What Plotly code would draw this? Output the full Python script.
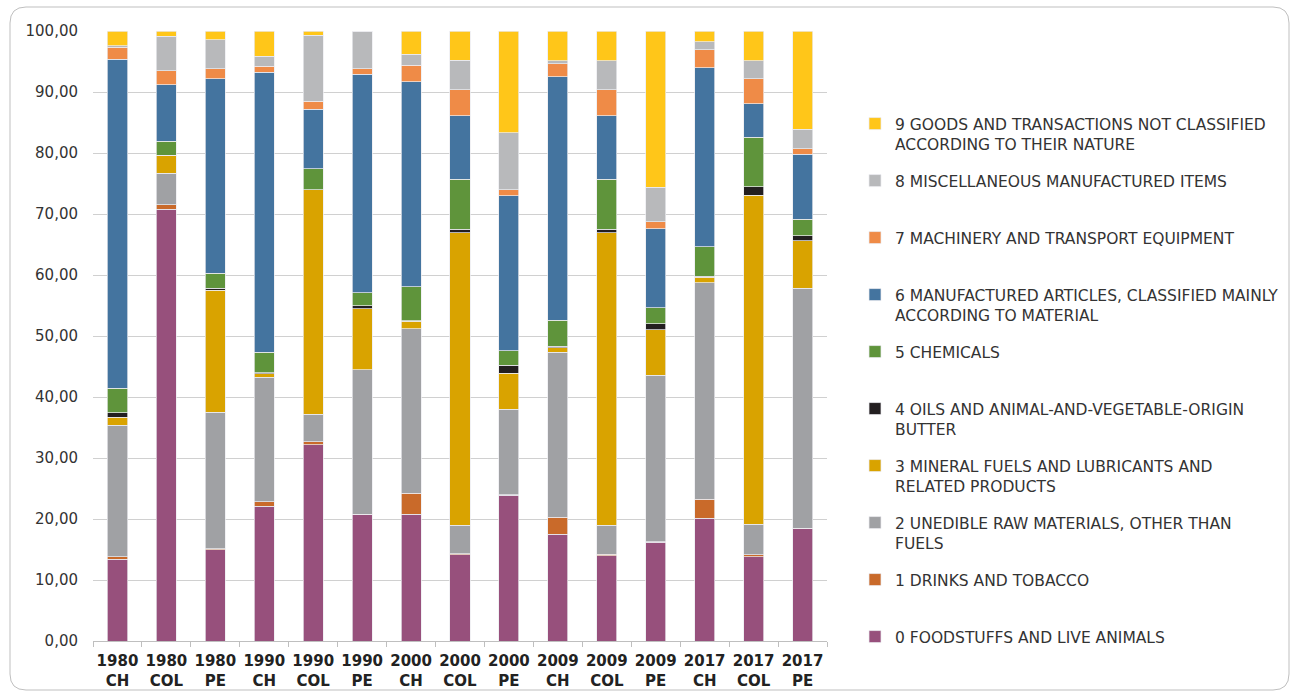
import plotly.graph_objects as go

years = ["1980", "1980", "1980", "1990", "1990", "1990", "2000", "2000", "2000",
         "2009", "2009", "2009", "2017", "2017", "2017"]
countries = ["CH", "COL", "PE"] * 5
categories = [f"{y} {c}" for y, c in zip(years, countries)]
tick_labels = [f"{y}<br>{c}" for y, c in zip(years, countries)]

food = [13.4, 70.8, 15.0, 22.1, 32.2, 20.7, 20.8, 14.1, 23.9, 17.5, 14.0, 16.2, 20.1, 13.8, 18.4]
drinks = [0.4, 0.7, 0.1, 0.7, 0.5, 0.1, 3.4, 0.2, 0.1, 2.8, 0.2, 0.1, 3.1, 0.3, 0.1]
raw = [21.6, 5.2, 22.4, 20.4, 4.5, 23.7, 27.0, 4.7, 14.0, 27.0, 4.8, 27.3, 35.5, 5.0, 39.3]
fuel = [1.3, 2.9, 20.0, 0.6, 36.8, 10.0, 1.2, 47.9, 5.9, 0.8, 47.9, 7.4, 0.9, 54.0, 7.8]
oils = [0.7, 0.0, 0.3, 0.2, 0.0, 0.5, 0.1, 0.6, 1.3, 0.2, 0.6, 1.0, 0.2, 1.4, 0.8]
chem = [4.0, 2.3, 2.5, 3.3, 3.4, 2.1, 5.6, 8.2, 2.4, 4.3, 8.2, 2.6, 4.8, 8.1, 2.7]
manuf = [54.0, 9.3, 31.9, 45.9, 9.8, 35.8, 33.6, 10.4, 25.4, 39.9, 10.4, 13.0, 29.4, 5.5, 10.7]
mach = [1.9, 2.3, 1.6, 1.0, 1.3, 0.9, 2.7, 4.3, 1.0, 2.1, 4.3, 1.1, 2.9, 4.1, 0.9]
misc = [0.3, 5.6, 4.8, 1.7, 10.8, 6.2, 1.8, 4.8, 9.3, 0.5, 4.7, 5.7, 1.3, 2.9, 3.2]
goods = [2.4, 0.9, 1.4, 4.1, 0.7, 0.0, 3.8, 4.8, 16.7, 4.9, 4.9, 25.6, 1.8, 4.9, 16.1]

series_names = [
    "0 FOODSTUFFS AND LIVE ANIMALS",
    "1 DRINKS AND TOBACCO",
    "2 UNEDIBLE RAW MATERIALS, OTHER THAN<br>FUELS",
    "3 MINERAL FUELS AND LUBRICANTS AND<br>RELATED PRODUCTS",
    "4 OILS AND ANIMAL-AND-VEGETABLE-ORIGIN<br>BUTTER",
    "5 CHEMICALS",
    "6 MANUFACTURED ARTICLES, CLASSIFIED MAINLY<br>ACCORDING TO MATERIAL",
    "7 MACHINERY AND TRANSPORT EQUIPMENT",
    "8 MISCELLANEOUS MANUFACTURED ITEMS",
    "9 GOODS AND TRANSACTIONS NOT CLASSIFIED<br>ACCORDING TO THEIR NATURE",
]
series_values = [food, drinks, raw, fuel, oils, chem, manuf, mach, misc, goods]
colors = ["#97507C", "#C96A2A", "#A0A1A4", "#D9A300", "#231F20",
          "#5F943B", "#44749F", "#EF8B47", "#B8B9BB", "#FFC619"]

W, H = 1294, 694
L, R, T, B = 93, 827, 31, 641


def px(x):
    return (x - L) / (R - L)


def py(y):
    return (B - y) / (B - T)


fig = go.Figure()
for i, (name, vals, col) in enumerate(zip(series_names, series_values, colors)):
    n_lines = name.count("<br>") + 1
    label = name + "<br> " * (2 - n_lines)
    fig.add_trace(go.Bar(
        x=categories, y=vals, name=label, legendgroup=f"g{i}",
        legendrank=100 - i,
        marker=dict(color=col, line=dict(color="rgba(235,235,240,0.9)", width=0.8)),
    ))

# rounded outer border
x0, x1, y0, y1, r = 10, 1289, 7, 690, 16
path = (
    f"M {px(x0 + r)} {py(y0)} L {px(x1 - r)} {py(y0)} "
    f"Q {px(x1)} {py(y0)} {px(x1)} {py(y0 + r)} "
    f"L {px(x1)} {py(y1 - r)} Q {px(x1)} {py(y1)} {px(x1 - r)} {py(y1)} "
    f"L {px(x0 + r)} {py(y1)} Q {px(x0)} {py(y1)} {px(x0)} {py(y1 - r)} "
    f"L {px(x0)} {py(y0 + r)} Q {px(x0)} {py(y0)} {px(x0 + r)} {py(y0)} Z"
)
fig.add_shape(type="path", path=path, xref="paper", yref="paper",
              line=dict(color="#BFBFBF", width=1), layer="below")

fig.update_layout(
    width=W, height=H,
    margin=dict(l=L, r=W - R, t=T, b=H - B, autoexpand=False),
    barmode="stack",
    bargap=0.59,
    separators=",.",
    plot_bgcolor="white",
    paper_bgcolor="white",
    font=dict(family="DejaVu Sans", size=14, color="#333333"),
    legend=dict(
        xref="container", yref="container",
        x=855 / W, y=1 - 107 / H, xanchor="left", yanchor="top",
        traceorder="grouped", valign="top", tracegroupgap=13.7,
        font=dict(family="DejaVu Sans", size=15.5, color="#333333"),
        itemwidth=30, bgcolor="rgba(0,0,0,0)", maxheight=690,
    ),
    xaxis=dict(
        type="category",
        tickmode="array", tickvals=categories, ticktext=tick_labels,
        tickfont=dict(family="DejaVu Sans", size=15, color="#222222", weight="bold"),
        tickangle=0,
        showline=True, linecolor="#BFBFBF", linewidth=1,
        ticks="outside", tickson="boundaries", ticklen=5, tickcolor="#BFBFBF",
        ticklabelstandoff=6,
        showgrid=False,
    ),
    yaxis=dict(
        range=[0, 100], dtick=10, tickformat=".2f",
        showgrid=True, gridcolor="#D0D0D0", gridwidth=1,
        zeroline=False, showline=False,
        tickfont=dict(family="DejaVu Sans", size=15, color="#333333"),
        ticklabelstandoff=14,
    ),
)

fig.write_html("out.html", config={"displayModeBar": False},
               post_script="document.body.style.margin='0px';")
